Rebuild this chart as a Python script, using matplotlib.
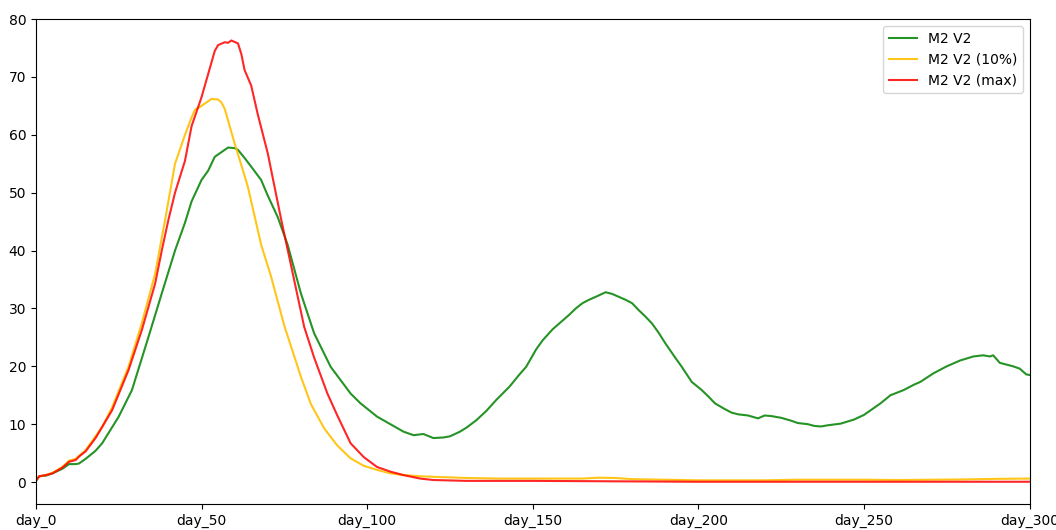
import matplotlib.pyplot as plt
import numpy as np

# series (day, value)
green_days = [0, 1, 3, 5, 8, 10, 12, 13, 15, 18, 20, 25, 29, 34, 38, 42, 45, 47, 50, 52, 54, 56, 58,
              60, 61, 63, 65, 68, 70, 73, 76, 80, 84, 89, 95, 98, 103, 107, 111, 114, 117, 120, 123,
              125, 128, 130, 133, 136, 139, 143, 146, 148, 151, 153, 156, 158, 161, 163, 165, 167,
              169, 172, 174, 176, 178, 180, 182, 184, 186, 188, 190, 193, 195, 198, 201, 203, 205,
              208, 210, 212, 215, 218, 220, 222, 225, 228, 230, 233, 235, 237, 239, 243, 247, 250,
              252, 255, 258, 262, 265, 267, 271, 275, 279, 283, 286, 288, 289, 291, 293, 295, 297,
              299, 300]
green_vals = [0.2, 1.0, 1.1, 1.5, 2.3, 3.1, 3.1, 3.2, 4.0, 5.4, 6.7, 11.3, 15.9, 25.1, 32.6, 40.0,
              44.8, 48.5, 52.2, 53.8, 56.2, 57.0, 57.8, 57.7, 57.4, 56.0, 54.5, 52.2, 49.5, 45.8,
              41.0, 32.6, 25.7, 19.9, 15.3, 13.6, 11.3, 10.0, 8.7, 8.1, 8.3, 7.6, 7.7, 7.9, 8.7, 9.4,
              10.7, 12.3, 14.2, 16.5, 18.6, 19.9, 22.9, 24.5, 26.4, 27.4, 28.9, 30.0, 30.9, 31.5,
              32.0, 32.8, 32.5, 32.0, 31.5, 30.9, 29.7, 28.6, 27.4, 25.8, 24.0, 21.5, 19.9, 17.3,
              15.9, 14.8, 13.6, 12.6, 12.0, 11.7, 11.5, 11.0, 11.5, 11.4, 11.1, 10.6, 10.2, 10.0,
              9.7, 9.6, 9.8, 10.1, 10.8, 11.6, 12.4, 13.6, 15.0, 15.9, 16.8, 17.3, 18.8, 20.0, 21.0,
              21.7, 21.9, 21.7, 21.9, 20.6, 20.3, 20.0, 19.6, 18.6, 18.5]

yellow_days = [0, 1, 3, 5, 8, 10, 12, 13, 15, 18, 20, 23, 28, 32, 36, 39, 42, 45, 47, 48, 50, 52,
               53, 55, 56, 57, 58, 60, 62, 64, 66, 68, 71, 75, 80, 83, 87, 91, 95, 99, 103, 107,
               111, 116, 120, 130, 140, 150, 160, 165, 170, 175, 180, 190, 200, 210, 220, 230,
               240, 250, 260, 270, 280, 290, 300]
yellow_vals = [0.2, 1.0, 1.2, 1.6, 2.6, 3.7, 4.0, 4.5, 5.5, 7.9, 9.5, 12.9, 20.0, 27.5, 36.0, 45.3,
               55.0, 60.0, 63.0, 64.3, 65.0, 65.8, 66.2, 66.1, 65.6, 64.5, 62.5, 58.5, 54.8, 51.0,
               46.0, 41.0, 35.5, 27.0, 18.2, 13.5, 9.3, 6.3, 4.1, 2.8, 2.1, 1.5, 1.2, 1.0, 0.9, 0.7,
               0.6, 0.6, 0.6, 0.6, 0.75, 0.7, 0.5, 0.4, 0.3, 0.3, 0.3, 0.4, 0.4, 0.4, 0.35, 0.4,
               0.45, 0.55, 0.6]

red_days = [0, 1, 3, 5, 8, 10, 12, 13, 15, 18, 23, 28, 32, 36, 38, 40, 42, 45, 47, 50, 52, 54, 55,
            57, 58, 59, 61, 62, 63, 65, 67, 70, 74, 77, 81, 84, 88, 91, 95, 99, 103, 107, 111,
            116, 120, 130, 150, 200, 250, 300]
red_vals = [0.2, 1.0, 1.2, 1.5, 2.5, 3.5, 3.8, 4.4, 5.3, 7.6, 12.4, 19.4, 26.3, 34.3, 40.0, 45.3,
            50.0, 55.5, 61.5, 66.5, 70.5, 74.5, 75.5, 76.0, 75.9, 76.3, 75.8, 74.0, 71.2, 68.5,
            63.5, 56.8, 45.5, 37.5, 26.8, 21.5, 15.3, 11.5, 6.7, 4.3, 2.6, 1.8, 1.2, 0.6, 0.35,
            0.2, 0.2, 0.05, 0.05, 0.05]

tick_days = [0, 50, 100, 150, 200, 250, 300]

fig = plt.figure(figsize=(10.56, 5.3), dpi=100)
ax = fig.add_axes([0.034, 0.049, 0.941, 0.915])

ax.plot(green_days, green_vals, color='green', alpha=0.85, lw=1.5, label='M2 V2')
ax.plot(yellow_days, yellow_vals, color='#ffc000', alpha=0.9, lw=1.5, label='M2 V2 (10%)')
ax.plot(red_days, red_vals, color='red', alpha=0.85, lw=1.5, label='M2 V2 (max)')

ax.set_xlim(0, 300)
ax.set_ylim(-3.8, 80)
ax.set_xticks(tick_days)
ax.set_xticklabels(['day_%d' % d for d in tick_days])
ax.set_yticks(np.arange(0, 81, 10))
ax.legend(loc='upper right')

fig.savefig('out.png', dpi=100)
